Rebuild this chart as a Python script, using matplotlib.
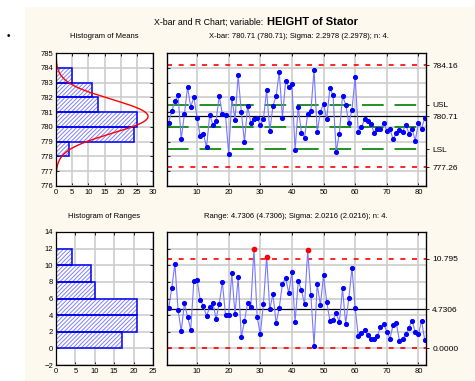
import numpy as np
import matplotlib
matplotlib.use("Agg")
import matplotlib.pyplot as plt
from matplotlib.patches import Rectangle

# === DATA ===
means = [780.23, 781.08, 781.73, 782.14, 779.17, 780.86, 782.70, 781.35, 782.02, 780.63,
         779.37, 779.55, 778.61, 780.81, 780.16, 780.38, 782.09, 780.86, 780.81, 778.16,
         781.98, 780.50, 783.48, 780.99, 778.97, 781.44, 780.27, 780.56, 780.63, 780.11,
         780.56, 782.47, 779.71, 781.40, 782.09, 783.69, 780.63, 783.08, 782.70, 782.92,
         778.43, 781.35, 779.62, 779.28, 780.90, 781.08, 783.87, 779.66, 781.01, 781.58,
         780.52, 782.63, 782.14, 778.32, 779.55, 782.09, 781.51, 780.23, 781.17, 783.37,
         779.66, 779.96, 780.56, 780.43, 780.18, 779.60, 779.89, 779.85, 780.27, 779.73,
         779.85, 779.15, 779.60, 779.78, 779.66, 780.16, 779.55, 779.89, 779.06, 780.27,
         779.89, 780.61]
ranges = [4.82, 7.21, 10.20, 4.62, 2.07, 5.42, 3.82, 2.27, 8.13, 8.21,
          5.86, 5.10, 3.90, 4.94, 5.50, 3.55, 5.30, 7.97, 4.02, 4.02,
          9.04, 4.10, 8.53, 1.31, 3.27, 5.50, 5.02, 11.99, 3.82, 1.67,
          5.38, 11.04, 4.70, 6.53, 3.03, 4.90, 7.73, 8.49, 6.65, 9.20,
          3.15, 8.05, 7.05, 5.30, 11.79, 6.37, 0.32, 7.73, 5.18, 8.80,
          5.62, 3.35, 3.47, 4.22, 3.15, 7.21, 2.95, 6.06, 9.72, 4.82,
          1.47, 1.87, 2.23, 1.55, 1.08, 1.08, 1.47, 2.55, 2.95, 2.03,
          1.16, 2.83, 3.03, 0.92, 1.12, 1.67, 2.51, 3.35, 1.95, 1.67,
          3.35, 0.96]

mean_bins = [778, 779, 780, 781, 782, 783]
mean_counts = [4, 24, 25, 13, 11, 5]
range_bins = [0, 2, 4, 6, 8, 10]
range_counts = [17, 21, 21, 10, 9, 4]

XBAR_CL, XBAR_UCL, XBAR_LCL = 780.71, 784.16, 777.26
USL, NOMINAL, LSL = 781.5, 780.0, 778.5
R_CL, R_UCL, R_LCL = 4.7306, 10.795, 0.0
SIGMA, N = 2.2978, 4

# === STYLE ===
plt.rcParams['font.family'] = ['Liberation Sans', 'DejaVu Sans']
plt.rcParams['font.size'] = 5.5
plt.rcParams['hatch.linewidth'] = 0.7
BG = "#fdf9ee"
GRID = "#cdcdcd"
W, H = 475, 381

fig = plt.figure(figsize=(W / 100, H / 100), dpi=100, facecolor=BG)
fig.patches.append(Rectangle((0, 0), 25 / W, 1, transform=fig.transFigure,
                             facecolor="white", edgecolor="none", zorder=0))
fig.patches.append(Rectangle((0, 1 - 7 / H), 1, 7 / H, transform=fig.transFigure,
                             facecolor="white", edgecolor="none", zorder=0))
fig.text(8 / W, 1 - 36 / H, "\u2022", fontsize=7, ha="center", va="center")


def box(l, t, r, b):
    return [l / W, 1 - b / H, (r - l) / W, (b - t) / H]


def style(ax):
    ax.tick_params(direction="in", length=2.5, width=0.6, top=True, right=True, pad=2)
    ax.grid(True, color=GRID, linewidth=1.2)
    ax.set_axisbelow(True)
    for s in ax.spines.values():
        s.set_linewidth(0.9)


def hatched_barh(ax, bins, counts, h):
    # light hatch underneath, solid blue outline on top
    ax.barh(bins, counts, height=h, align="edge", color="white",
            edgecolor="#8080ff", hatch="////////", linewidth=0)
    ax.barh(bins, counts, height=h, align="edge", fill=False,
            edgecolor="#0000ee", linewidth=1.1)


# --- histogram of means ---
axh1 = fig.add_axes(box(56, 53, 153, 186))
hatched_barh(axh1, mean_bins, mean_counts, 1)
yy = np.linspace(776, 785, 300)
sd = SIGMA / np.sqrt(N)
curve = len(means) * np.exp(-0.5 * ((yy - XBAR_CL) / sd) ** 2) / (sd * np.sqrt(2 * np.pi))
axh1.plot(curve, yy, color="red", linewidth=1)
axh1.set_xlim(0, 30)
axh1.set_ylim(776, 785)
axh1.set_xticks(range(0, 31, 5))
axh1.set_yticks(range(776, 786))
style(axh1)

# --- x-bar chart ---
x = np.arange(1, len(means) + 1)
ax1 = fig.add_axes(box(167, 53, 426, 186))
style(ax1)
ax1.axhline(XBAR_UCL, color="red", linestyle=(0, (3, 4)), linewidth=1.2)
ax1.axhline(XBAR_LCL, color="red", linestyle=(0, (3, 4)), linewidth=1.2)
for v in (USL, NOMINAL, LSL):
    ax1.axhline(v, color="#118811", linestyle=(0, (12, 6)), linewidth=1.3)
ax1.axhline(XBAR_CL, color="black", linewidth=0.9)
ax1.plot(x, means, color="#7878ff", linewidth=0.8, marker="o", markersize=2.7,
         markerfacecolor="#0000ff", markeredgecolor="#0000ff")
ax1.set_xlim(0.5, 82.4)
ax1.set_ylim(776, 785)
ax1.set_xticks(range(10, 81, 10))
ax1.set_yticks(range(776, 786))
ax1.set_yticklabels([])
ax1.tick_params(right=False)
r1 = ax1.twinx()
r1.set_ylim(776, 785)
r1.set_yticks([XBAR_UCL, USL, XBAR_CL, LSL, XBAR_LCL])
r1.set_yticklabels(["784.16", "USL", "780.71", "LSL", "777.26"], fontsize=6)
r1.tick_params(direction="out", length=2.5, width=0.6, pad=2)

# --- histogram of ranges ---
axh2 = fig.add_axes(box(56, 232, 153, 365))
hatched_barh(axh2, range_bins, range_counts, 2)
axh2.set_xlim(0, 25)
axh2.set_ylim(-2, 14)
axh2.set_xticks(range(0, 26, 5))
axh2.set_yticks(range(-2, 15, 2))
style(axh2)

# --- range chart ---
ax2 = fig.add_axes(box(167, 232, 426, 365))
style(ax2)
ax2.axhline(R_UCL, color="red", linestyle=(0, (3, 4)), linewidth=1.2)
ax2.axhline(R_LCL, color="red", linestyle=(0, (3, 4)), linewidth=1.2)
ax2.axhline(R_CL, color="black", linewidth=0.9)
ax2.plot(x, ranges, color="#7878ff", linewidth=0.8, marker="o", markersize=2.7,
         markerfacecolor="#0000ff", markeredgecolor="#0000ff")
rr = np.array(ranges)
out = rr > R_UCL
ax2.plot(x[out], rr[out], "o", color="red", markersize=3, linestyle="none")
ax2.set_xlim(0.5, 82.4)
ax2.set_ylim(-2, 14)
ax2.set_xticks(range(10, 81, 10))
ax2.set_yticks(range(-2, 15, 2))
ax2.set_yticklabels([])
ax2.tick_params(right=False)
r2 = ax2.twinx()
r2.set_ylim(-2, 14)
r2.set_yticks([R_UCL, R_CL, R_LCL])
r2.set_yticklabels(["10.795", "4.7306", "0.0000"], fontsize=6)
r2.tick_params(direction="out", length=2.5, width=0.6, pad=2)

# --- titles ---
fig.text(263 / W, 1 - 22 / H, "X-bar and R Chart; variable:", fontsize=6.3,
         ha="right", va="center")
fig.text(267 / W, 1 - 22 / H, "HEIGHT of Stator", fontsize=8, fontweight="bold",
         ha="left", va="center")
fig.text(104 / W, 1 - 37 / H, "Histogram of Means", fontsize=5.5, ha="center", va="center")
fig.text(299 / W, 1 - 37 / H, "X-bar: 780.71 (780.71); Sigma: 2.2978 (2.2978); n: 4.",
         fontsize=5.5, ha="center", va="center")
fig.text(104 / W, 1 - 216 / H, "Histogram of Ranges", fontsize=5.5, ha="center", va="center")
fig.text(296 / W, 1 - 216 / H, "Range: 4.7306 (4.7306); Sigma: 2.0216 (2.0216); n: 4.",
         fontsize=5.5, ha="center", va="center")

fig.savefig("out.png", dpi=100, facecolor=BG)
